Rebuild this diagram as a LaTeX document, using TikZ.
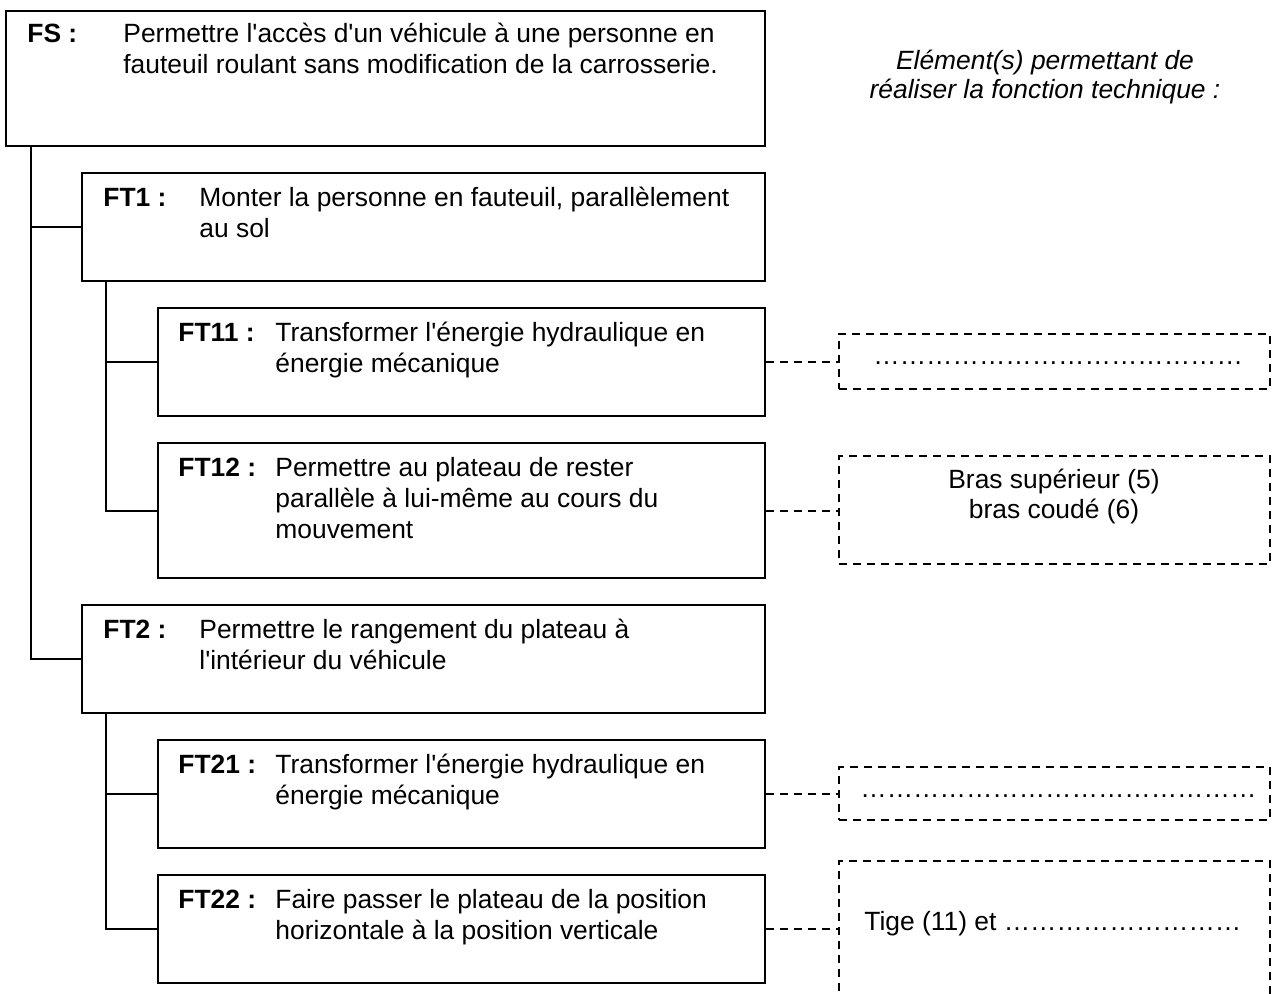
\documentclass[tikz,border=0pt]{standalone}
\usepackage{fontspec}
\newfontfamily\arial{Liberation Sans}
\newcommand\elldots[1]{\foreach \k in {1,...,#1}{…}}
\newcommand\nolskip{\setlength{\lineskiplimit}{-100pt}}
\newcommand\bodyfont{\arial\fontsize{13.2pt}{15.5pt}\selectfont\nolskip}
\newcommand\hdrfont{\arial\itshape\fontsize{13.2pt}{14.25pt}\selectfont\nolskip}
\newcommand\elfont{\arial\fontsize{13.2pt}{15pt}\selectfont\nolskip}
\begin{document}
\begin{tikzpicture}[x=0.5pt,y=-0.5pt,
  font=\bodyfont,
  box/.style={draw, line width=1pt, inner sep=0pt, anchor=north west},
  dbox/.style={draw, line width=1pt, dash pattern=on 4pt off 3pt, inner sep=0pt, anchor=north west},
  lab/.style={anchor=base west, inner sep=0pt, font=\bodyfont\bfseries},
  txt/.style={anchor=base west, inner sep=0pt, align=left},
  ctxt/.style={anchor=base, inner sep=0pt, align=center},
  link/.style={line width=1pt},
  dlink/.style={line width=1pt, dash pattern=on 4pt off 3pt}]
\useasboundingbox (0,0) rectangle (1274,994);
\fill[white] (0,0) rectangle (1274,994);

% function boxes
\node[box, minimum width=379.5pt, minimum height=67.5pt] (fs)   at (5,10)   {};
\node[box, minimum width=341.5pt, minimum height=54pt]   (ft1)  at (81,172) {};
\node[box, minimum width=303.5pt, minimum height=54pt]   (ft11) at (157,307) {};
\node[box, minimum width=303.5pt, minimum height=67.5pt] (ft12) at (157,442) {};
\node[box, minimum width=341.5pt, minimum height=54pt]   (ft2)  at (81,604) {};
\node[box, minimum width=303.5pt, minimum height=54pt]   (ft21) at (157,739) {};
\node[box, minimum width=303.5pt, minimum height=54pt]   (ft22) at (157,874) {};

% element boxes
\node[dbox, minimum width=215.5pt, minimum height=27.5pt] (d1) at (838,333) {};
\node[dbox, minimum width=215.5pt, minimum height=54pt]   (d2) at (838,455) {};
\node[dbox, minimum width=215.5pt, minimum height=26.5pt] (d3) at (838,766) {};
\node[dbox, minimum width=215.5pt, minimum height=68pt]   (d4) at (838,860) {};

% texts (multi-line nodes are placed at the baseline of their last line)
\node[lab] (fsl) at (27,43) {FS :};
\node[txt] (fst) at (123,74) {Permettre l'accès d'un véhicule à une personne en\\fauteuil roulant sans modification de la carrosserie.};
\node[lab] (ft1l) at (103,207) {FT1 :};
\node[txt] (ft1t) at (199,238) {Monter la personne en fauteuil, parallèlement\\au sol};
\node[lab] (ft11l) at (178,342) {FT11 :};
\node[txt] (ft11t) at (275,373) {Transformer l'énergie hydraulique en\\énergie mécanique};
\node[lab] (ft12l) at (178,476) {FT12 :};
\node[txt] (ft12t) at (275,538) {Permettre au plateau de rester\\parallèle à lui-même au cours du\\mouvement};
\node[lab] (ft2l) at (103,638) {FT2 :};
\node[txt] (ft2t) at (199,669) {Permettre le rangement du plateau à\\l'intérieur du véhicule};
\node[lab] (ft21l) at (178,773) {FT21 :};
\node[txt] (ft21t) at (275,804) {Transformer l'énergie hydraulique en\\énergie mécanique};
\node[lab] (ft22l) at (178,908) {FT22 :};
\node[txt] (ft22t) at (275,939) {Faire passer le plateau de la position\\horizontale à la position verticale};

\node[ctxt, font=\hdrfont] (hdr) at (1045,98.5) {Elément(s) permettant de\\réaliser la fonction technique :};

\node[txt] (d1t) at (873,365) {\elldots{14}};
\node[ctxt, font=\elfont] (d2t) at (1054,518) {Bras supérieur (5)\\bras coudé (6)};
\node[txt] (d3t) at (860,797) {\elldots{15}};
\node[txt] (d4t) at (864,930) {Tige (11) et \elldots{9}};

% tree connectors
\coordinate (t0) at ([xshift=13pt]fs.south west);
\coordinate (t1) at ([xshift=12.5pt]ft1.south west);
\coordinate (t2) at ([xshift=12.5pt]ft2.south west);
\draw[link] (t0) |- (ft1.west);
\draw[link] (t0) |- (ft2.west);
\draw[link] (t1) |- (ft11.west);
\draw[link] (t1) |- (ft12.west);
\draw[link] (t2) |- (ft21.west);
\draw[link] (t2) |- (ft22.west);

% dashed links
\draw[dlink] (ft11.east) -- (ft11.east -| d1.west);
\draw[dlink] (ft12.east) -- (ft12.east -| d2.west);
\draw[dlink] (ft21.east) -- (ft21.east -| d3.west);
\draw[dlink] (ft22.east) -- (ft22.east -| d4.west);
\end{tikzpicture}
\end{document}
